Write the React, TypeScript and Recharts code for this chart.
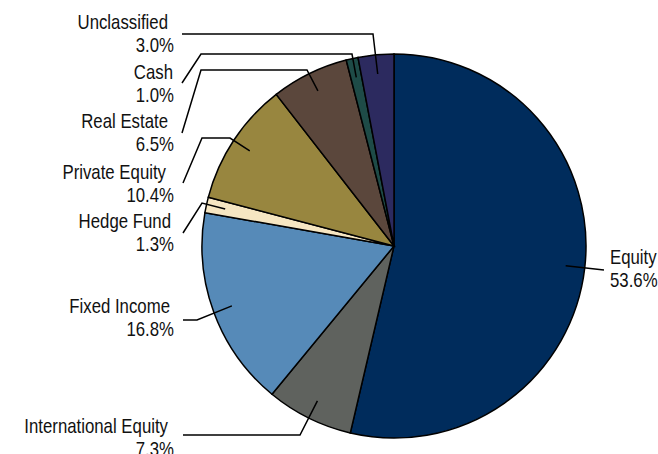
import React from 'react';
import { PieChart, Pie, Cell } from 'recharts';

// clockwise from 12 o'clock
const CATEGORIES = [
  'Equity',
  'International Equity',
  'Fixed Income',
  'Hedge Fund',
  'Private Equity',
  'Real Estate',
  'Cash',
  'Unclassified',
];
const SHARES = [53.6, 7.3, 16.8, 1.3, 10.4, 6.5, 1.0, 3.0];
const COLORS = ['#002C5C', '#5F625E', '#568AB8', '#F6E6C2', '#98863F', '#5B473C', '#1E4B47', '#2C2A5F'];

// leader line elbows + where the text sits (annotation layout only)
const LABEL_LAYOUT = [
  { route: [[604, 270]], x: 610, y: 264, anchor: 'start', nameDx: 0 },
  { route: [[300, 435], [183, 435]], x: 174, y: 433, anchor: 'end', nameDx: -6 },
  { route: [[197, 320], [183, 320]], x: 174, y: 313, anchor: 'end', nameDx: -4 },
  { route: [[202, 203], [183, 233]], x: 174, y: 228, anchor: 'end', nameDx: -3 },
  { route: [[230, 138], [202, 138], [183, 183]], x: 174, y: 179, anchor: 'end', nameDx: -8 },
  { route: [[307, 70], [201, 70], [182, 133]], x: 174, y: 128, anchor: 'end', nameDx: -6 },
  { route: [[352, 54], [201, 54], [182, 83]], x: 174, y: 79, anchor: 'end', nameDx: -1 },
  { route: [[373, 34], [182, 34]], x: 174, y: 29, anchor: 'end', nameDx: -6 },
];

const data = CATEGORIES.map((name, i) => ({ name, value: SHARES[i] }));

const RADIAN = Math.PI / 180;
const FONT = "'Liberation Sans', Arial, sans-serif";

const renderLabel = (props: any) => {
  const { cx, cy, midAngle, outerRadius, index } = props;
  const layout = LABEL_LAYOUT[index];
  const r = outerRadius * 0.9;
  const sx = cx + r * Math.cos(-midAngle * RADIAN);
  const sy = cy + r * Math.sin(-midAngle * RADIAN);
  const pts = [[sx, sy], ...layout.route].map(p => p.join(',')).join(' ');
  return (
    <g key={`lbl-${index}`}>
      <polyline points={pts} fill="none" stroke="#000" strokeWidth={1.5} />
      <text
        transform={`translate(${layout.x},${layout.y}) scale(0.84,1)`}
        textAnchor={layout.anchor}
        fontFamily={FONT}
        fontSize={20}
        fill="#111"
      >
        <tspan x={layout.nameDx / 0.84} y={0}>{data[index].name}</tspan>
        <tspan x={0} y={23}>{data[index].value.toFixed(1)}%</tspan>
      </text>
    </g>
  );
};

export default function App() {
  return (
    <div style={{ position: 'absolute', left: 0, top: 0, background: '#fff' }}>
      <PieChart width={658} height={454} margin={{ top: 0, right: 0, bottom: 0, left: 0 }}>
        <Pie
          data={data}
          dataKey="value"
          nameKey="name"
          cx={394}
          cy={246}
          outerRadius={192}
          startAngle={90}
          endAngle={-270}
          stroke="#000"
          strokeWidth={1.5}
          label={renderLabel}
          labelLine={false}
          isAnimationActive={false}
        >
          {data.map((entry, index) => (
            <Cell key={`cell-${index}`} fill={COLORS[index]} />
          ))}
        </Pie>
      </PieChart>
    </div>
  );
}
